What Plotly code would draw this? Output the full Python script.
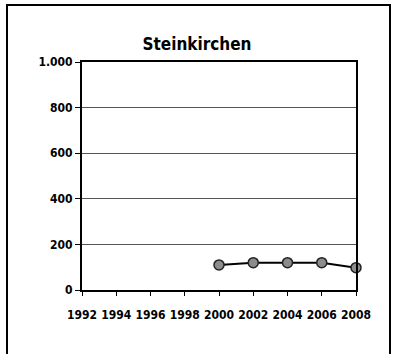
import plotly.graph_objects as go

years = [2000, 2002, 2004, 2006, 2008]
values = [110, 120, 120, 120, 98]
x_ticks = [1992, 1994, 1996, 1998, 2000, 2002, 2004, 2006, 2008]
y_ticks = [0, 200, 400, 600, 800, 1000]
y_tick_labels = ["0", "200", "400", "600", "800", "1.000"]
title = "Steinkirchen"

W, H = 394, 354
L, R, T, B = 82, 38, 62, 64
pw, ph = W - L - R, H - T - B

def px2paper_x(px):
    return (px - L) / pw

def px2paper_y(py):
    return (H - B - py) / ph

font = "DejaVu Sans, sans-serif"

fig = go.Figure()
fig.add_trace(go.Scatter(
    x=years, y=values, mode="lines+markers",
    line=dict(color="black", width=2),
    marker=dict(size=10, color="#8c8c8c", line=dict(color="#222222", width=1.5)),
    showlegend=False, cliponaxis=False,
))

fig.update_layout(
    width=W, height=H,
    margin=dict(l=L, r=R, t=T, b=B, autoexpand=False),
    paper_bgcolor="white", plot_bgcolor="white",
    title=dict(text=title, x=0.5, xanchor="center", y=1 - 44 / H, yanchor="middle",
               font=dict(family=font, size=17, color="black", weight="bold")),
    xaxis=dict(range=[1992, 2008], tickvals=x_ticks, ticktext=[str(t) for t in x_ticks],
               showgrid=False, zeroline=False, showline=True, linecolor="black", linewidth=2,
               mirror=True, ticks="outside", ticklen=4, tickcolor="black", ticklabelstandoff=9,
               tickangle=0, automargin=False,
               tickfont=dict(family=font, size=12, color="black", weight="bold")),
    yaxis=dict(range=[0, 1000], tickvals=y_ticks, ticktext=y_tick_labels,
               showgrid=True, gridcolor="#555555", gridwidth=1, zeroline=False,
               showline=True, linecolor="black", linewidth=2, mirror=True,
               ticks="outside", ticklen=5, tickcolor="black", automargin=False,
               tickfont=dict(family=font, size=12, color="black", weight="bold")),
    shapes=[dict(type="rect", xref="paper", yref="paper",
                 x0=px2paper_x(7), x1=px2paper_x(390),
                 y0=px2paper_y(400), y1=px2paper_y(5),
                 line=dict(color="black", width=2), layer="below")],
)

post = """
document.body.style.margin='0';
var st=document.createElement('style');
st.textContent='svg text{font-stretch:condensed !important;}';
document.head.appendChild(st);
"""
fig.write_html("out.html", config={"displayModeBar": False}, post_script=post)
